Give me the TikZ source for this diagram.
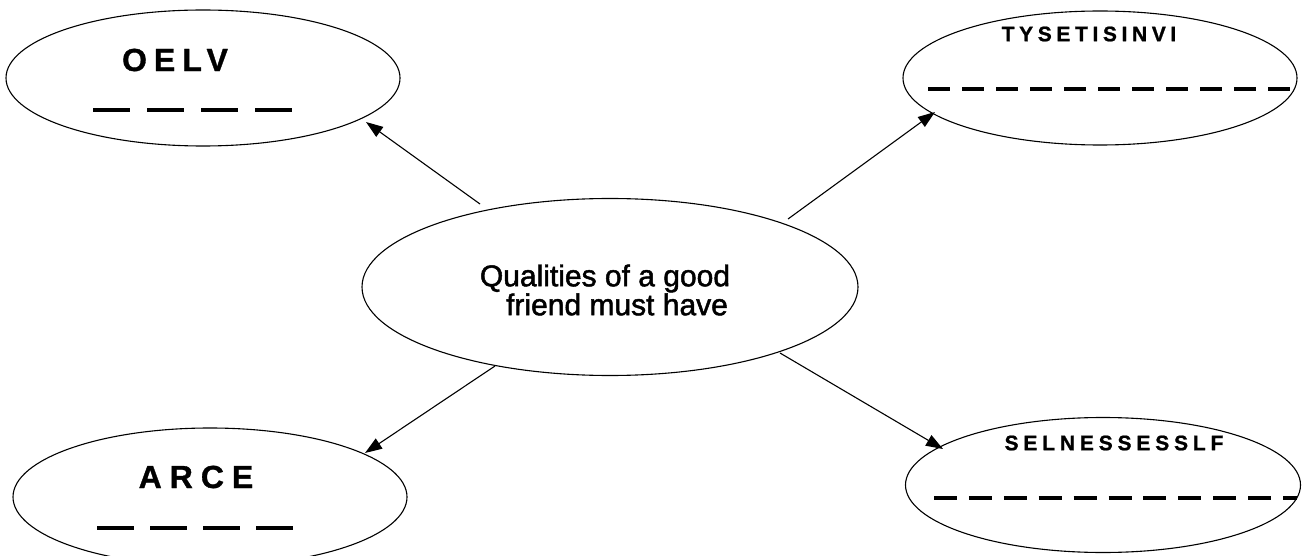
\documentclass[tikz,border=0pt]{standalone}
\usepackage{fontspec}
\setmainfont{Liberation Sans}
\usetikzlibrary{shapes.geometric,arrows.meta}
\tikzset{
  oval/.style={ellipse, draw, line width=1.1pt, inner sep=0pt},
  conn/.style={line width=1.1pt, -{Triangle[length=17pt,width=12pt]}},
  blank/.style={line width=3.2pt},
  word/.style={inner sep=0pt}
}
\begin{document}
\begin{tikzpicture}[x=1pt,y=-1pt]
\useasboundingbox (0,0) rectangle (1304,556);
% ellipses
\node[oval, minimum width=394pt, minimum height=136pt] (tl) at (203,78) {};
\node[oval, minimum width=394pt, minimum height=134pt] (tr) at (1100,78) {};
\node[oval, minimum width=496pt, minimum height=177pt] (c) at (610,287) {};
\node[oval, minimum width=394pt, minimum height=138pt] (bl) at (210,497) {};
\node[oval, minimum width=395pt, minimum height=135pt] (br) at (1103,485) {};
% center text
\node[inner sep=0pt, align=center, font=\fontsize{30}{25.5}\selectfont\addfontfeature{FakeBold=1.6}] (ct) at (605,290)
  {Qualities of a good\\\hspace*{0.8em}friend must have};
% words
\node[word, font=\bfseries\fontsize{32}{32}\selectfont\addfontfeature{LetterSpace=22,FakeBold=1}] (w1) at (175,60) {OELV};
\node[word, font=\bfseries\fontsize{21}{21}\selectfont\addfontfeature{LetterSpace=22,FakeBold=1}] (w2) at (1089,34) {TYSETISINVI};
\node[word, font=\bfseries\fontsize{32}{32}\selectfont\addfontfeature{LetterSpace=25,FakeBold=1}] (w3) at (196,477) {ARCE};
\node[word, font=\bfseries\fontsize{21}{21}\selectfont\addfontfeature{LetterSpace=23,FakeBold=1}] (w4) at (1114,443) {SELNESSESSLF};
% blanks
\coordinate (b1s) at (93,110);  \coordinate (b1e) at (292,110);
\coordinate (b2s) at (928,89);  \coordinate (b2e) at (1291,89);
\coordinate (b3s) at (97,528);  \coordinate (b3e) at (296,528);
\coordinate (b4s) at (934,498); \coordinate (b4e) at (1297,498);
\draw[blank, dash pattern=on 37pt off 17pt] (b1s) -- (b1e);
\draw[blank, dash pattern=on 22pt off 12pt] (b2s) -- (b2e);
\draw[blank, dash pattern=on 37pt off 16pt] (b3s) -- (b3e);
\draw[blank, dash pattern=on 23pt off 11.9pt] (b4s) -- (b4e);
% arrows
\coordinate (a1s) at (480,204); \coordinate (a1e) at (366,122);
\coordinate (a2s) at (788,219); \coordinate (a2e) at (935,112);
\coordinate (a3s) at (495,366); \coordinate (a3e) at (365,453);
\coordinate (a4s) at (780,353); \coordinate (a4e) at (943,449);
\draw[conn] (a1s) -- (a1e);
\draw[conn] (a2s) -- (a2e);
\draw[conn] (a3s) -- (a3e);
\draw[conn] (a4s) -- (a4e);
\end{tikzpicture}
\end{document}
